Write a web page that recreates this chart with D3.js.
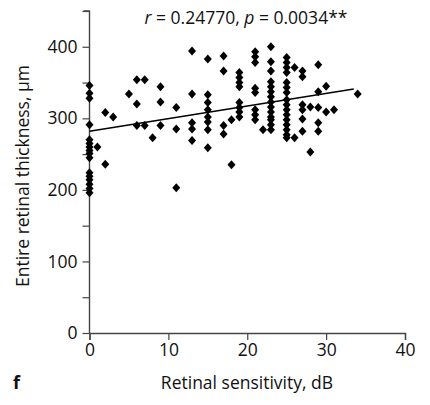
<!DOCTYPE html>
<html><head><meta charset="utf-8">
<script src="https://cdn.jsdelivr.net/npm/d3@7"></script>
<style>body{margin:0;background:#fff}svg{display:block}text{font-family:"Open Sans",sans-serif;fill:#111}</style>
</head><body><svg id="c" width="430" height="405"></svg>
<script>
// Data: retinal sensitivity (dB) and entire retinal thickness (µm)
const sensitivity = [
 0,0,0,0,0,0,0,0,0,0,0,0,0,0,0,0,
 1,2,2,3,5,6,6,6,7,7,8,9,9,9,11,11,11,
 13,13,13,13,13,
 15,15,15,15,15,15,15,15,
 17,17,17,17,18,18,
 19,19,19,19,19,19,19,19,
 21,21,21,21,21,21,21,21,22,
 23,23,23,23,23,23,23,23,23,23,23,23,23,23,
 25,25,25,25,25,25,25,25,25,25,25,25,25,25,25,25,
 26,26,27,27,27,27,27,27,28,28,29,29,29,29,29,30,30,31,34
];
const thickness = [
 346,335,328,291,270,265,260,255,251,245,224,219,214,208,202,196,
 260,308,236,302,334,354,320,290,354,290,273,344,323,290,315,285,203,
 394,334,294,285,269,
 383,333,322,312,302,295,284,259,
 387,366,290,278,298,235,
 364,357,350,344,322,315,309,302,
 393,386,378,342,336,312,305,298,284,
 400,379,366,351,344,337,330,323,316,309,302,298,291,284,
 385,378,371,364,350,343,336,326,319,312,305,298,291,284,277,273,
 371,273,366,358,319,312,299,282,316,253,375,337,315,294,282,345,309,312,334
];
const xTicks = [0,10,20,30,40];
const yTicks = [0,50,100,150,200,250,300,350,400,450];
const yLabels = [0,100,200,300,400];
const fitX = [0, 33.5];
const fitY = [282, 341];
const statText = ["r", " = 0.24770, ", "p", " = 0.0034**"];

const svg = d3.select("#c");
const x = d3.scaleLinear().domain([0,40]).range([89.5,405]);
const y = d3.scaleLinear().domain([0,450]).range([333,11]);

// axes
const xAxis = d3.axisBottom(x).tickValues(xTicks).tickSize(7).tickPadding(4);
const gx = svg.append("g").attr("transform","translate(0,333)").call(xAxis);
const yAxis = d3.axisLeft(y).tickValues(yTicks).tickSize(7).tickPadding(5)
  .tickFormat(d => yLabels.includes(d) ? d : "");
const gy = svg.append("g").attr("transform","translate(89.5,0)").call(yAxis);
[gx,gy].forEach(g=>{
  g.select(".domain").attr("stroke","#444").attr("stroke-width",1.4);
  g.selectAll(".tick line").attr("stroke","#444").attr("stroke-width",1.2);
  g.selectAll(".tick text").style("font-family","'Open Sans',sans-serif").style("font-size","17.5px").attr("fill","#111");
});
gy.select(".domain").attr("d","M-6,11H0V333");

// points
const pts = sensitivity.map((s,i)=>({s, t: thickness[i]}));
svg.append("g").selectAll("path").data(pts).join("path")
  .attr("d","M0,-4.5L4,0L0,4.5L-4,0Z")
  .attr("transform",d=>`translate(${x(d.s)},${y(d.t)})`)
  .attr("fill","#000");

// regression line
svg.append("line")
  .attr("x1",x(fitX[0])).attr("y1",y(fitY[0]))
  .attr("x2",x(fitX[1])).attr("y2",y(fitY[1]))
  .attr("stroke","#000").attr("stroke-width",1.6);

// stats
const st = svg.append("text").attr("x",246).attr("y",24).attr("text-anchor","middle").style("font-size","17.5px");
statText.forEach((t,i)=>st.append("tspan").text(t).style("font-style", i%2===0 ? "italic":"normal"));

// axis titles
svg.append("text").attr("x",247).attr("y",389).attr("text-anchor","middle").style("font-size","17.5px").text("Retinal sensitivity, dB");
svg.append("text").attr("transform","translate(29,176) rotate(-90)").attr("text-anchor","middle").style("font-size","17.5px").text("Entire retinal thickness, µm");
svg.append("text").attr("x",13).attr("y",389).style("font-size","18px").style("font-weight","bold").text("f");
</script></body></html>
